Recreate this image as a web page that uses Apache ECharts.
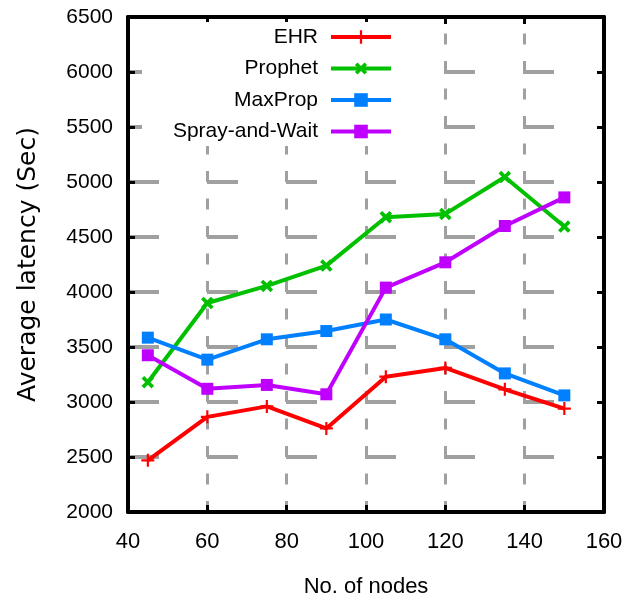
<!DOCTYPE html>
<html>
<head>
<meta charset="utf-8">
<script src="https://cdn.jsdelivr.net/npm/echarts@6/dist/echarts.min.js"></script>
<style>
  html, body { margin: 0; padding: 0; background: #fff; }
  #chart { width: 638px; height: 603px; }
</style>
</head>
<body>
<div id="chart"></div>
<script>
const nodes = [45, 60, 75, 90, 105, 120, 135, 150]
const ehr = [2470, 2865, 2960, 2760, 3230, 3310, 3115, 2940]
const prophet = [3180, 3900, 4055, 4240, 4680, 4710, 5045, 4595]
const maxProp = [3585, 3385, 3570, 3645, 3750, 3570, 3260, 3060]
const sprayAndWait = [3425, 3120, 3155, 3070, 4040, 4270, 4600, 4860]
const seriesNames = ['EHR', 'Prophet', 'MaxProp', 'Spray-and-Wait']

const chart = echarts.init(document.getElementById('chart'))

const plusPath = 'path://M-1,-6H1V-1H6V1H1V6H-1V1H-6V-1H-1Z'
const crossPath = 'path://M-1.6,-6H1.6V-1.6H6V1.6H1.6V6H-1.6V1.6H-6V-1.6H-1.6Z'

const styles = [
  { color: '#ff0000', symbol: plusPath, size: 13, rotate: 0 },
  { color: '#00c000', symbol: crossPath, size: 14, rotate: 45 },
  { color: '#0080ff', symbol: 'rect', size: 12, rotate: 0 },
  { color: '#c000ff', symbol: 'rect', size: 12, rotate: 0 }
]
const values = [ehr, prophet, maxProp, sprayAndWait]

const boxAxis = {
  axisLine: { show: true, lineStyle: { color: '#000', width: 4 } },
  axisTick: { show: true, inside: true, length: 7, lineStyle: { color: '#000', width: 3 } },
  splitLine: { show: false }
}

const legendRows = [37.5, 69, 100.5, 132]
const plainNum = v => String(v)

const option = {
  animation: false,
  textStyle: { fontFamily: 'Liberation Sans' },
  grid: { left: 128, right: 34, top: 17, bottom: 90 },
  graphic: [{
    type: 'rect',
    z: 1,
    shape: { x: 142, y: 22, width: 261, height: 124 },
    style: { fill: '#fff' }
  }],
  legend: seriesNames.map((name, i) => ({
    data: [name],
    right: 245,
    top: legendRows[i] - 11,
    align: 'right',
    padding: 0,
    itemWidth: 60,
    itemHeight: 17,
    lineStyle: { width: 4 },
    textStyle: { fontSize: 21, color: '#000', fontFamily: 'Liberation Sans', padding: [0, 8, 0, 0] }
  })),
  xAxis: [
    Object.assign({}, boxAxis, {
      type: 'value', min: 40, max: 160, interval: 20, position: 'bottom',
      name: 'No. of nodes', nameLocation: 'middle', nameGap: 64,
      nameTextStyle: { fontSize: 22, color: '#000', fontFamily: 'Liberation Sans Narrow, Liberation Sans' },
      axisLabel: { margin: 19, fontSize: 22, color: '#000', formatter: plainNum, fontFamily: 'Liberation Sans Narrow, Liberation Sans' },
      splitLine: { show: true, lineStyle: { color: '#a0a0a0', width: 3, type: [11, 16.5], dashOffset: 11 } }
    }),
    Object.assign({}, boxAxis, {
      type: 'value', min: 40, max: 160, interval: 20, position: 'top',
      axisLabel: { show: false }
    })
  ],
  yAxis: [
    Object.assign({}, boxAxis, {
      type: 'value', min: 2000, max: 6500, interval: 500, position: 'left',
      name: 'Average latency (Sec)', nameLocation: 'middle', nameGap: 87,
      nameTextStyle: { fontSize: 25, color: '#000', fontFamily: 'DejaVu Sans' },
      axisLabel: { margin: 15, fontSize: 21, color: '#000', formatter: plainNum },
      splitLine: { show: true, lineStyle: { color: '#a0a0a0', width: 4, type: [31, 48] } }
    }),
    Object.assign({}, boxAxis, {
      type: 'value', min: 2000, max: 6500, interval: 500, position: 'right',
      axisLabel: { show: false }
    })
  ],
  series: seriesNames.map((name, i) => ({
    name: name,
    type: 'line',
    data: nodes.map((x, j) => [x, values[i][j]]),
    symbol: styles[i].symbol,
    symbolSize: styles[i].size,
    symbolRotate: styles[i].rotate,
    lineStyle: { color: styles[i].color, width: 4 },
    itemStyle: { color: styles[i].color },
    z: 3
  }))
}

chart.setOption(option)
</script>
</body>
</html>
